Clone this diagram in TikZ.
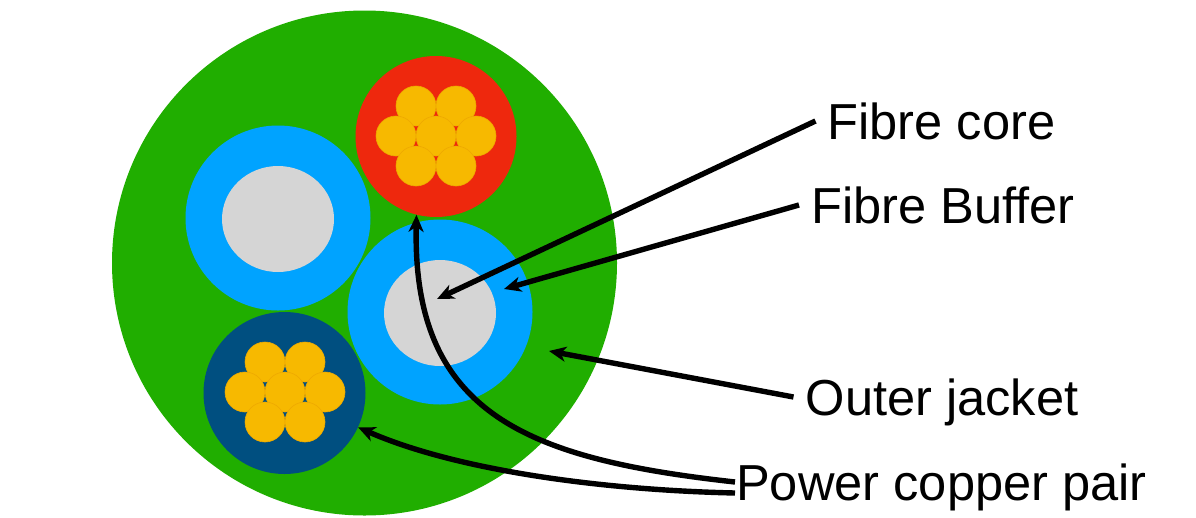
\documentclass[tikz,border=0pt]{standalone}
\usepackage{fontspec}
\setmainfont{Liberation Sans}
\usetikzlibrary{arrows.meta,calc,shapes.geometric}

\definecolor{jacketgreen}{RGB}{32,174,0}
\definecolor{sheathred}{RGB}{238,40,13}
\definecolor{bufferblue}{RGB}{0,163,255}
\definecolor{coregray}{RGB}{213,213,213}
\definecolor{sheathnavy}{RGB}{0,79,128}
\definecolor{copper}{RGB}{247,185,0}
\definecolor{copperedge}{RGB}{238,168,0}

\tikzset{
  disc/.style={circle, inner sep=0pt, minimum size=#1},
  strand/.style={circle, inner sep=0pt, minimum size=40pt, fill=copper, draw=copperedge, line width=0.6pt},
  fibrecore/.style={ellipse, inner sep=0pt, minimum width=112pt, minimum height=106pt, fill=coregray},
  label/.style={anchor=base west, inner xsep=12pt, inner ysep=0pt, text height=36pt, text depth=0pt,
                font=\fontsize{50.6}{60}\selectfont},
  pointer/.style={line width=5.4pt, -{Stealth[length=17pt, width=15pt, inset=5pt]}},
}

% seven copper strands packed around (#1,#2)
\newcommand{\copperbundle}[2]{%
  \foreach \dx/\dy in {-20/-30, 20/-30, -40/0, 0/0, 40/0, -20/30, 20/30}
    \node[strand] at ($(#1,#2)+(\dx,\dy)$) {};
}

\begin{document}
\begin{tikzpicture}[x=1pt, y=-1pt]
  \useasboundingbox (0,0) rectangle (1196,517);

  % outer jacket
  \node[disc=505pt, fill=jacketgreen] (jacket) at (364.5,263) {};

  % upper-left fibre with its buffer
  \node[disc=185pt, fill=bufferblue] (bufferA) at (278,218) {};
  \node[fibrecore] (coreA) at (278,219) {};

  % right fibre with its buffer
  \node[disc=185pt, fill=bufferblue] (bufferB) at (440,312) {};
  \node[fibrecore] (coreB) at (440,313) {};

  % red copper conductor
  \node[disc=161pt, fill=sheathred] (redwire) at (436,136.5) {};
  \copperbundle{436}{136}

  % navy copper conductor
  \node[disc=162pt, fill=sheathnavy] (navywire) at (284.5,393) {};
  \copperbundle{285}{392}

  % labels
  \node[label] (lblcore)   at (815.5,139) {Fibre core};
  \node[label] (lblbuffer) at (799,223)   {Fibre Buffer};
  \node[label] (lbljacket) at (793.5,415) {Outer jacket};
  \node[label, inner xsep=1pt] (lblpower) at (735,500) {Power copper pair};

  % arrow targets inside the cable
  \coordinate (coretip)   at (437,299);
  \coordinate (buffertip) at (504,289);
  \coordinate (jackettip) at (549,351);

  % pointers
  \draw[pointer] (lblcore.west) -- (coretip);
  \draw[pointer] (lblbuffer.west) -- (buffertip);
  \draw[pointer] (lbljacket.west) -- (jackettip);
  \draw[pointer] (lblpower.west) .. controls (527,459) and (412,414) .. (redwire.-104);
  \draw[pointer] ([yshift=-11pt]lblpower.west) .. controls (600,490) and (455,470) .. (navywire.-25);
\end{tikzpicture}
\end{document}
